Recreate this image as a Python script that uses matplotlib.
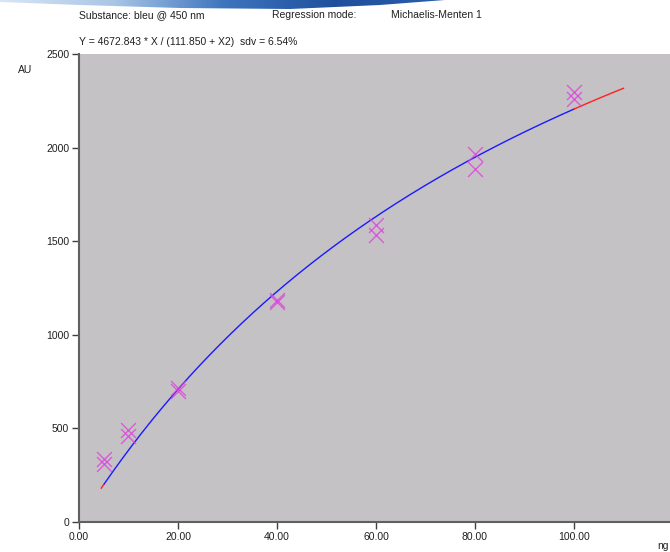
import numpy as np
import matplotlib.pyplot as plt
from matplotlib.patches import Polygon
from matplotlib.colors import LinearSegmentedColormap

plt.rcParams['font.family'] = ['Liberation Sans', 'DejaVu Sans']

# fitted Michaelis-Menten model
vmax = 4672.843
km = 111.850

# measured standards (duplicates)
conc = [5, 5, 10, 10, 20, 20, 40, 40, 60, 60, 80, 80, 100, 100]
signal = [335, 312, 492, 462, 715, 702, 1188, 1176, 1588, 1533, 1966, 1884, 2297, 2258]

xticks = [0, 20, 40, 60, 80, 100]
yticks = [0, 500, 1000, 1500, 2000, 2500]

fig = plt.figure(figsize=(6.7, 5.52), dpi=100)

# blue swoosh banner at the top
bg = fig.add_axes([0, 0, 1, 1], zorder=-1)
bg.set_xlim(0, 670)
bg.set_ylim(552, 0)
bg.axis('off')
grad = np.linspace(0, 1, 256).reshape(1, -1)
cmap = LinearSegmentedColormap.from_list('sw', ['#d8e6f4', '#a9c6e6', '#3d74bd', '#1f4f9c', '#2a5fae'])
im = bg.imshow(grad, extent=[0, 450, 12, 0], aspect='auto', cmap=cmap)
shape = Polygon([(0, 0), (0, 2), (80, 5), (180, 8), (290, 9), (380, 5), (445, 0)],
                closed=True, transform=bg.transData, facecolor='none', edgecolor='none')
bg.add_patch(shape)
im.set_clip_path(shape)

ax = fig.add_axes([79 / 670, 1 - 522 / 552, 1 - 79 / 670, (522 - 54) / 552])
ax.set_facecolor('#c4c2c4')
ax.set_xlim(0, 119.4)
ax.set_ylim(0, 2500)

xs = np.linspace(5, 100, 300)
ax.plot(xs, vmax * xs / (km + xs), color='#1a1aff', lw=1.0, zorder=3)
xr = np.linspace(100, 110, 50)
ax.plot(xr, vmax * xr / (km + xr), color='#ff2020', lw=1.0, zorder=3)
xr0 = np.linspace(4.5, 5, 5)
ax.plot(xr0, vmax * xr0 / (km + xr0), color='#ff2020', lw=1.0, zorder=3)

ax.scatter(conc, signal, marker='x', s=115, color='#e040e0', linewidths=1.0, alpha=0.8, zorder=4)

for s in ['top', 'right']:
    ax.spines[s].set_visible(False)
for s in ['left', 'bottom']:
    ax.spines[s].set_color('#606060')
    ax.spines[s].set_linewidth(1.5)
ax.set_xticks(xticks)
ax.set_xticklabels([f'{v:.2f}' for v in xticks])
ax.set_yticks(yticks)
ax.set_yticklabels([str(v) for v in yticks])
ax.tick_params(direction='out', length=5, width=1, colors='#404040', labelsize=7.5,
               labelcolor='#202020', pad=2)

fig.text(18 / 670, 1 - 70 / 552, 'AU', fontsize=7.5, ha='left', va='center', color='#202020')
fig.text(657 / 670, 1 - 546 / 552, 'ng', fontsize=7.5, ha='left', va='center', color='#202020')

fig.text(79 / 670, 1 - 15 / 552, 'Substance: bleu @ 450 nm', fontsize=7.5, ha='left', va='center', color='#202020')
fig.text(272 / 670, 1 - 15 / 552, 'Regression mode:', fontsize=7.5, ha='left', va='center', color='#202020')
fig.text(391 / 670, 1 - 15 / 552, 'Michaelis-Menten 1', fontsize=7.5, ha='left', va='center', color='#202020')
fig.text(79 / 670, 1 - 42 / 552, f'Y = {vmax:.3f} * X / ({km:.3f} + X2)  sdv = 6.54%',
         fontsize=7.5, ha='left', va='center', color='#202020')

fig.savefig('out.png', dpi=100)
